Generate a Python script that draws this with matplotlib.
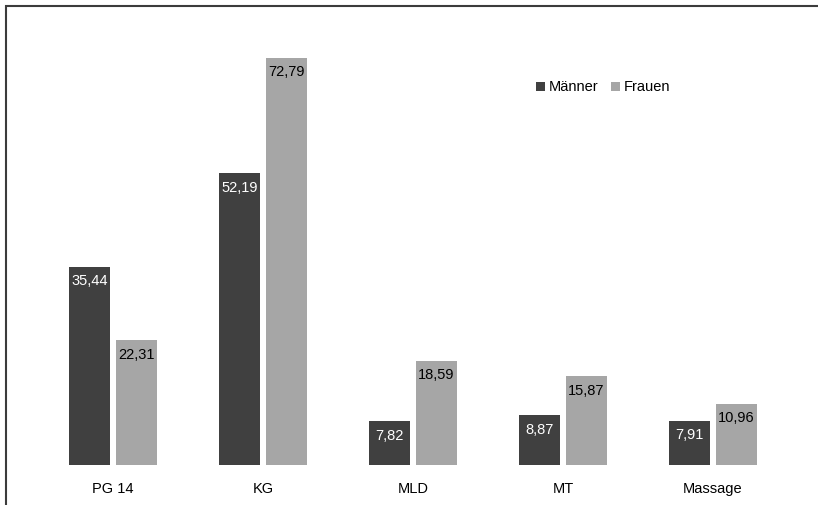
import matplotlib
matplotlib.use("Agg")
import matplotlib.pyplot as plt
from matplotlib.patches import Patch, Rectangle
import numpy as np

plt.rcParams['font.family'] = ['Liberation Sans', 'DejaVu Sans']

categories = ["PG 14", "KG", "MLD", "MT", "Massage"]
maenner = [35.44, 52.19, 7.82, 8.87, 7.91]
frauen = [22.31, 72.79, 18.59, 15.87, 10.96]
series_names = ["Männer", "Frauen"]

col_m = "#404040"
col_f = "#a6a6a6"

W, H = 818, 505
fig = plt.figure(figsize=(W / 100, H / 100), dpi=100)

# axes placed in pixel units: 150 px per category, baseline at 465 px from top
left_px, right_px = 38, 788
bottom_px = 40
y_max = 80
px_per_unit = 5.59
height_px = y_max * px_per_unit
ax = fig.add_axes([left_px / W, bottom_px / H, (right_px - left_px) / W, height_px / H])

x = np.arange(len(categories))
bw = 41 / 150
off = 23.5 / 150
bars_m = ax.bar(x - off, maenner, width=bw, color=col_m)
bars_f = ax.bar(x + off, frauen, width=bw, color=col_f)

def fmt(v):
    return f"{v:.2f}".replace(".", ",")

for bars, vals, tc in ((bars_m, maenner, "white"), (bars_f, frauen, "black")):
    for b, v in zip(bars, vals):
        ax.annotate(fmt(v), (b.get_x() + b.get_width() / 2, v),
                    xytext=(0, -10.3), textcoords="offset points",
                    ha="center", va="center", fontsize=10.5, color=tc)

ax.set_xlim(-0.5, len(categories) - 0.5)
ax.set_ylim(0, y_max)
ax.set_xticks(x)
ax.set_xticklabels(categories, fontsize=10.5)
ax.tick_params(axis="x", length=0, pad=12)
ax.set_yticks([])
for s in ax.spines.values():
    s.set_visible(False)
ax.patch.set_visible(False)

handles = [Patch(facecolor=col_m), Patch(facecolor=col_f)]
fig.legend(handles, series_names, loc="center",
           bbox_to_anchor=(603 / W, 1 - 87.5 / H), ncol=2, frameon=False,
           fontsize=10.5, handlelength=0.6, handleheight=0.6,
           handletextpad=0.25, columnspacing=0.9, borderpad=0)

# outer frame of the chart area
fig.patches.append(Rectangle((5.5, -20), W + 40, H - 5.5 + 20, transform=None,
                             fill=False, edgecolor="#3c3c3c", linewidth=1.5))

fig.savefig("out.png", dpi=100)
